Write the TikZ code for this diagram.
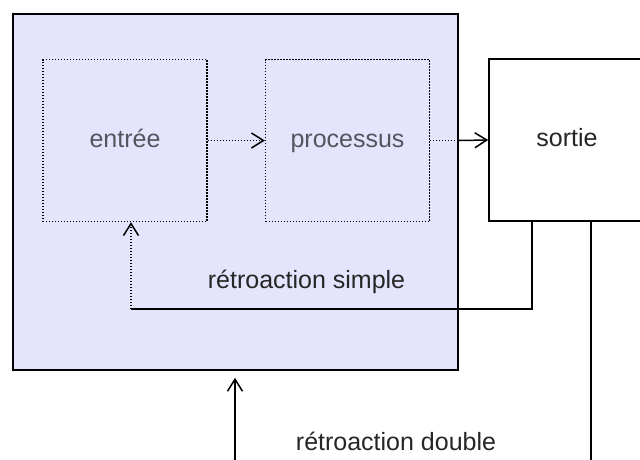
\documentclass[tikz,border=0pt]{standalone}
\definecolor{fondsys}{RGB}{228, 228, 252}
\definecolor{textgris}{RGB}{85, 85, 95}
\usepackage{fontspec}
\setmainfont{Liberation Sans}
\usepackage{tikz}
\usetikzlibrary{arrows.meta, positioning, calc}

\begin{document}
\begin{tikzpicture}[
  x=1pt, y=-1pt,
  every node/.style={font=\fontsize{25}{30}\selectfont, text=black!85},
  sysbox/.style={draw, line width=1.6pt, fill=fondsys, minimum width=445pt, minimum height=356pt, inner sep=0pt},
  innerbox/.style={draw, line width=1.3pt, dash pattern=on 1.3pt off 1.7pt, minimum width=164pt, minimum height=162pt, inner sep=0pt, text height=18pt, text depth=5pt, text=textgris},
  outbox/.style={draw, line width=1.6pt, fill=white, minimum width=156pt, minimum height=162pt, inner sep=0pt, text height=18pt, text depth=5pt},
  fleche/.style={line width=1.5pt, -{Straight Barb[length=12pt, width=15pt]}},
  pointille/.style={line width=1.3pt, dash pattern=on 1.3pt off 1.7pt}
]
  \clip (0,0) rectangle (640,459);
  \fill[white] (0,0) rectangle (640,459);

  % boites
  \node[sysbox] (systeme) at (235.5, 192) {};
  \node[innerbox] (entree) at (125, 140.5) {entrée};
  \node[innerbox] (processus) at (347.5, 140.5) {processus};
  \node[outbox] (sortie) at (567, 140) {sortie};

  % chaine directe
  \draw[pointille, fleche] (entree) -- (processus);
  \coordinate (bord) at (processus.east -| systeme.east);
  \draw[pointille] (processus.east) -- (bord);
  \draw[fleche] (bord) -- (sortie.west);

  % retroaction simple
  \coordinate (simpleA) at ($(sortie.south west)+(44,0)$);
  \coordinate (simpleB) at (131, 309);
  \draw[line width=1.6pt] (simpleA) |- (simpleB);
  \draw[pointille, fleche] (simpleB) -- (simpleB |- entree.south);
  \node[anchor=base] (lblsimple) at (306.5, 288) {rétroaction simple};

  % retroaction double
  \coordinate (doubleA) at ($(sortie.south west)+(103,0)$);
  \coordinate (doubleB) at (doubleA |- 0, 470);
  \draw[line width=1.6pt] (doubleA) -- (doubleB);
  \coordinate (doubleC) at (235, 470);
  \draw[fleche] (doubleC) -- ($(doubleC |- systeme.south)+(0,7)$);
  \node[anchor=base] (lbldouble) at (396, 450) {rétroaction double};
\end{tikzpicture}
\end{document}
